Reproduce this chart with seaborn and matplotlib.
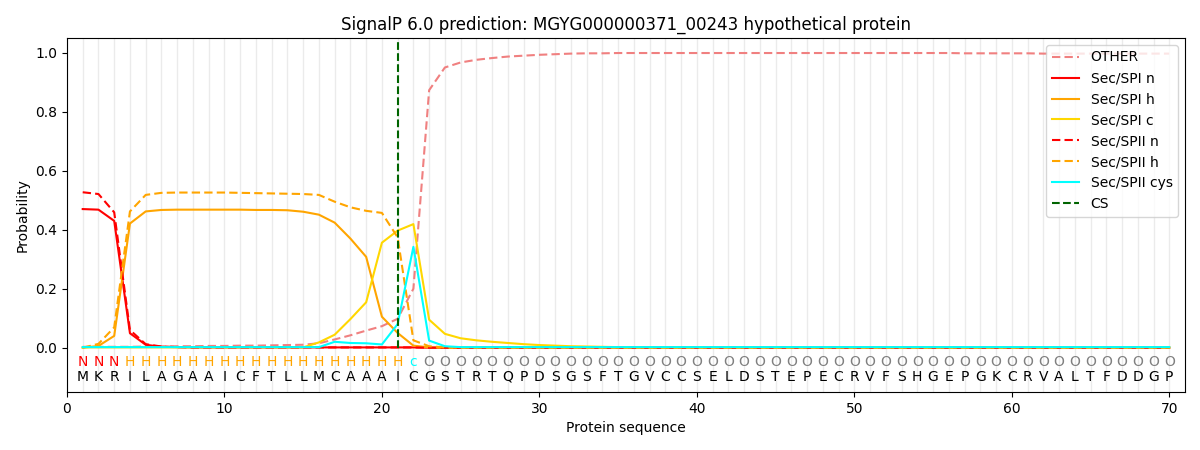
import numpy as np
import pandas as pd
import matplotlib
matplotlib.use("Agg")
import matplotlib.pyplot as plt
import seaborn as sns

sequence = list("MKRILAGAAICFTLLMCAAAICGSTRTQPDSGSFTGVCCSELDSTEPECRVFSHGEPGKCRVALTFDDGP")
labels = list("NNN" + "H" * 18 + "c" + "O" * 48)
cs_position = 21

other = [0.003, 0.003, 0.003, 0.003, 0.004, 0.004, 0.005, 0.005, 0.006, 0.006,
         0.007, 0.007, 0.008, 0.009, 0.010, 0.015, 0.028, 0.042, 0.058, 0.073,
         0.098, 0.200, 0.873, 0.950, 0.967, 0.976, 0.982, 0.987, 0.990, 0.993,
         0.995, 0.997, 0.998, 0.998, 0.999, 0.999, 0.999, 0.999, 0.999, 0.999,
         0.999, 0.999, 0.999, 0.999, 0.999, 0.999, 0.999, 0.999, 0.999, 0.999,
         0.999, 0.999, 0.999, 0.999, 0.999, 0.999, 0.998, 0.998, 0.998, 0.998,
         0.998, 0.997, 0.997, 0.997, 0.997, 0.997, 0.997, 0.997, 0.997, 0.997]
sp1_n = [0.470, 0.468, 0.430, 0.049, 0.010, 0.003, 0.002, 0.001, 0.001, 0.001] + [0.001] * 12 + [0.0] * 48
sp1_h = [0.000, 0.006, 0.040, 0.421, 0.462, 0.467, 0.468, 0.468, 0.468, 0.468,
         0.468, 0.467, 0.467, 0.466, 0.461, 0.451, 0.424, 0.370, 0.308, 0.105,
         0.050, 0.007, 0.001] + [0.0] * 47
sp1_c = [0.001] * 15 + [0.018, 0.044, 0.097, 0.154, 0.356, 0.397, 0.419, 0.095, 0.047,
         0.032, 0.025, 0.020, 0.016, 0.012, 0.009, 0.007, 0.005, 0.004, 0.003, 0.002] + [0.001] * 35
sp2_n = [0.527, 0.521, 0.459, 0.060, 0.012, 0.004, 0.002, 0.001, 0.001, 0.001] + [0.001] * 12 + [0.0] * 48
sp2_h = [0.000, 0.013, 0.069, 0.462, 0.518, 0.525, 0.526, 0.526, 0.526, 0.526,
         0.525, 0.524, 0.523, 0.522, 0.521, 0.518, 0.495, 0.476, 0.464, 0.457,
         0.374, 0.025, 0.005, 0.001] + [0.0] * 46
sp2_cys = [0.002] * 16 + [0.020, 0.016, 0.015, 0.011, 0.080, 0.342, 0.024, 0.005] + [0.002] * 46

positions = np.arange(1, len(sequence) + 1)

series = [
    ("OTHER", other, "#F08080", (4, 2)),
    ("Sec/SPI n", sp1_n, "red", ""),
    ("Sec/SPI h", sp1_h, "orange", ""),
    ("Sec/SPI c", sp1_c, "gold", ""),
    ("Sec/SPII n", sp2_n, "red", (4, 2)),
    ("Sec/SPII h", sp2_h, "orange", (4, 2)),
    ("Sec/SPII cys", sp2_cys, "cyan", ""),
]

fig, ax = plt.subplots(figsize=(12, 4.5), dpi=100)
for name, vals, color, dash in series:
    df = pd.DataFrame({"pos": positions, "prob": vals})
    sns.lineplot(data=df, x="pos", y="prob", ax=ax, color=color, label=name, linewidth=1.5)
    line = ax.get_lines()[-1]
    if dash:
        line.set_dashes(dash)

ax.vlines(cs_position, 0, 1.05, color="darkgreen", linestyle="--", linewidth=1.5, label="CS")

label_colors = {"N": "red", "H": "orange", "c": "cyan", "O": "gray"}
for p, aa, lab in zip(positions, sequence, labels):
    ax.text(p, -0.098, aa, ha="center", va="center", fontsize=10, color="black")
    ax.text(p, -0.047, lab, ha="center", va="center", fontsize=10, color=label_colors[lab])

ax.set_xlim(0, 71)
ax.set_ylim(-0.15, 1.05)
ax.set_xticks(range(0, 71, 10))
ax.set_yticks(np.arange(0, 1.01, 0.2))
ax.set_xticks(positions, minor=True)
ax.tick_params(axis="x", which="minor", length=0)
ax.grid(axis="x", which="minor", color="#ebebeb", linewidth=1)
ax.grid(axis="x", which="major", color="#ebebeb", linewidth=1)
ax.set_axisbelow(True)
ax.set_xlabel("Protein sequence")
ax.set_ylabel("Probability")
ax.set_title("SignalP 6.0 prediction: MGYG000000371_00243 hypothetical protein", fontsize=12)
ax.legend(loc="upper right")

fig.subplots_adjust(left=0.0558, right=0.9875, top=0.9156, bottom=0.129)
fig.savefig("out.png", dpi=100)
